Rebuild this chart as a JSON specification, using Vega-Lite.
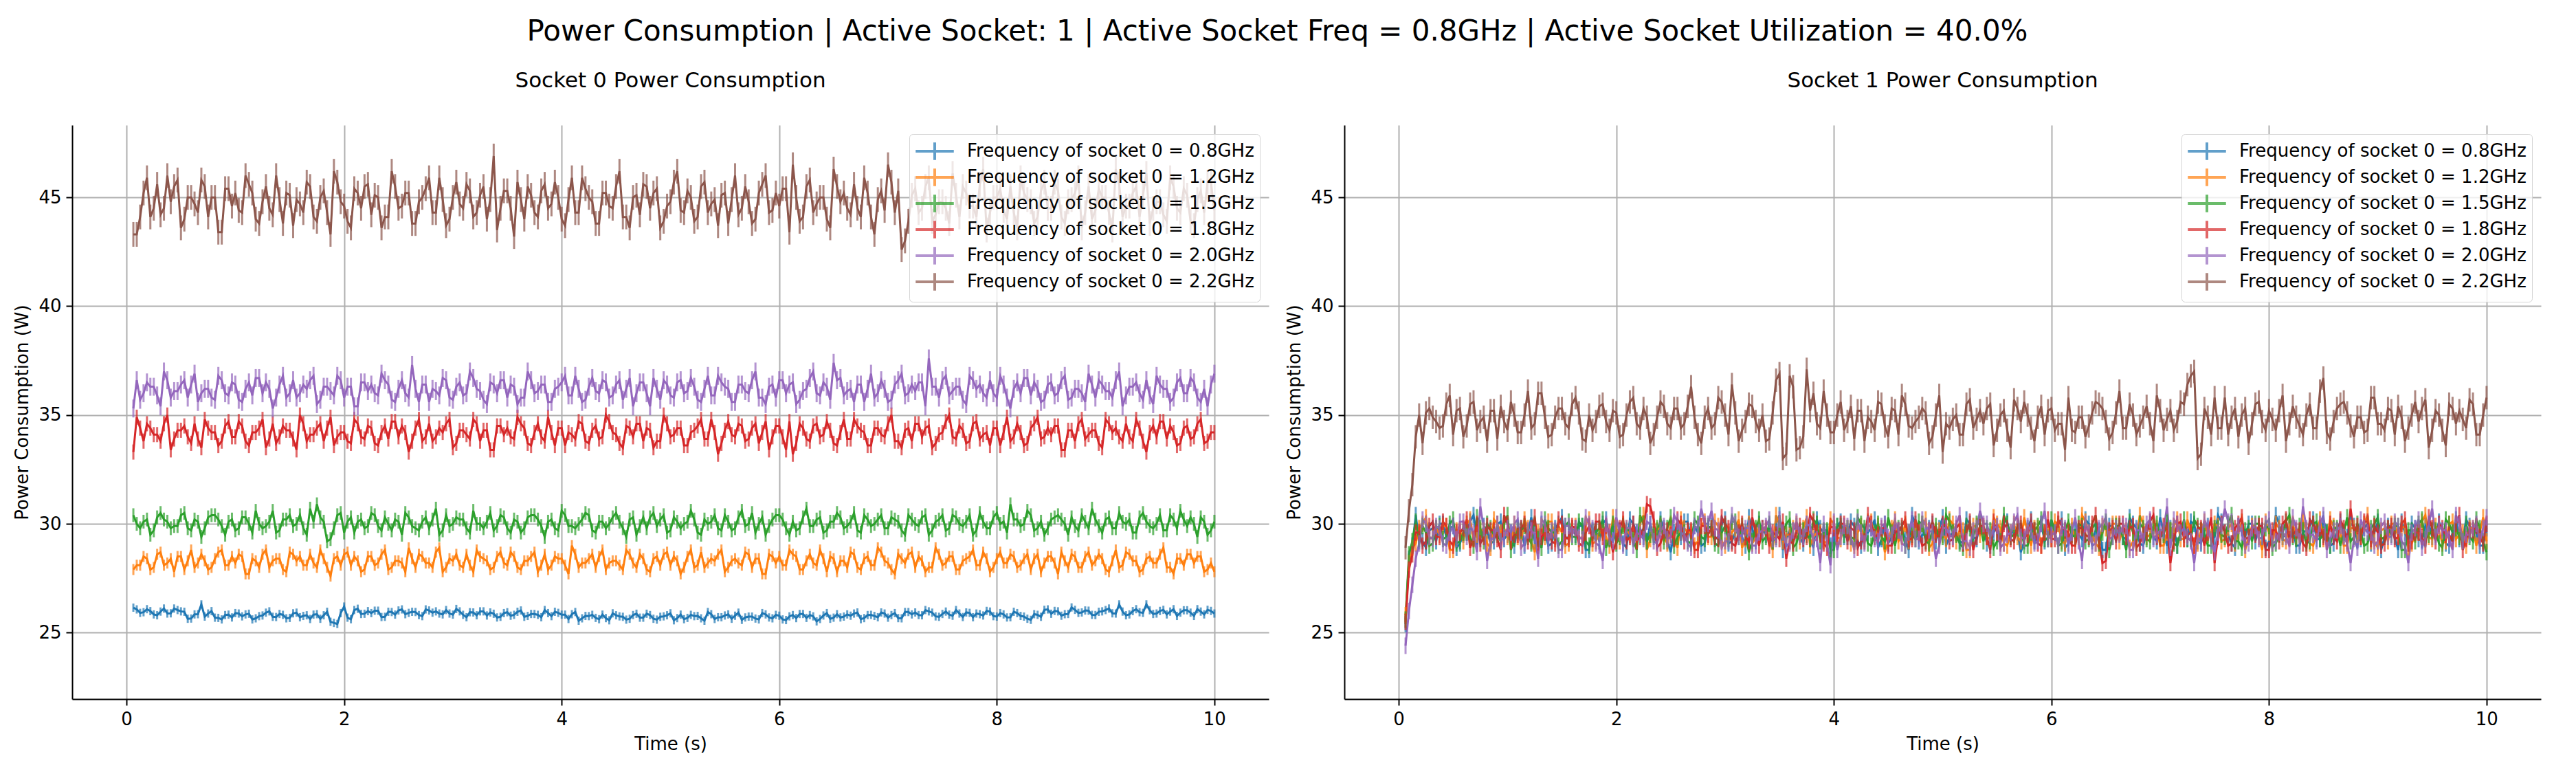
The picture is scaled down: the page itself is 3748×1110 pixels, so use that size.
{
  "$schema": "https://vega.github.io/schema/vega-lite/v6.json",
  "background": "white",
  "padding": {"left": 19, "top": 25, "right": 36, "bottom": 8},
  "title": {
    "text": "Power Consumption | Active Socket: 1 | Active Socket Freq = 0.8GHz | Active Socket Utilization = 40.0%",
    "font": "DejaVu Sans",
    "fontSize": 42,
    "fontWeight": "normal",
    "color": "#000",
    "anchor": "middle",
    "offset": 34
  },
  "data": {
    "values": [
      {"t":0.0625,"a":26.15,"b":27.9,"c":30.4,"d":33.3,"e":35.3,"f":43.3,"g":25.4,"h":25.8,"i":25.6,"j":25.5,"k":24.4,"l":28.9},
      {"t":0.125,"a":25.91,"b":28.1,"c":29.8,"d":34.4,"e":35.7,"f":44.1,"g":29.0,"h":28.9,"i":29.2,"j":28.6,"k":27.2,"l":31.8},
      {"t":0.1875,"a":26.08,"b":28.4,"c":30.2,"d":34.6,"e":36.5,"f":45.9,"g":29.2,"h":29.8,"i":29.3,"j":29.6,"k":29.1,"l":35.0},
      {"t":0.25,"a":25.84,"b":28.0,"c":29.7,"d":34.1,"e":36.3,"f":44.5,"g":28.9,"h":30.3,"i":29.6,"j":29.2,"k":30.0,"l":35.1},
      {"t":0.3125,"a":25.97,"b":28.7,"c":30.5,"d":33.8,"e":35.4,"f":44.2,"g":29.8,"h":29.4,"i":29.1,"j":30.1,"k":29.3,"l":34.9},
      {"t":0.375,"a":25.88,"b":28.2,"c":30.1,"d":35.0,"e":36.6,"f":46.0,"g":30.0,"h":29.5,"i":29.9,"j":29.4,"k":29.8,"l":34.4},
      {"t":0.4375,"a":26.11,"b":27.8,"c":29.9,"d":33.9,"e":36.1,"f":45.5,"g":29.4,"h":29.9,"i":29.4,"j":29.9,"k":29.0,"l":35.5},
      {"t":0.5,"a":25.98,"b":28.5,"c":30.4,"d":34.3,"e":36.4,"f":43.6,"g":29.9,"h":28.8,"i":30.2,"j":29.0,"k":29.9,"l":34.1},
      {"t":0.5625,"a":25.64,"b":28.3,"c":29.8,"d":34.0,"e":35.8,"f":45.0,"g":29.1,"h":29.7,"i":29.2,"j":29.6,"k":30.1,"l":35.3},
      {"t":0.625,"a":25.84,"b":28.0,"c":30.2,"d":34.6,"e":36.9,"f":44.7,"g":29.6,"h":30.0,"i":29.6,"j":30.2,"k":29.4,"l":34.5},
      {"t":0.6875,"a":26.3,"b":28.6,"c":29.4,"d":33.5,"e":36.0,"f":45.8,"g":30.4,"h":29.3,"i":29.0,"j":29.3,"k":29.6,"l":35.6},
      {"t":0.75,"a":25.88,"b":27.9,"c":30.3,"d":34.4,"e":36.2,"f":44.1,"g":29.3,"h":29.7,"i":29.8,"j":29.1,"k":30.8,"l":34.7},
      {"t":0.8125,"a":25.69,"b":28.4,"c":30.4,"d":34.2,"e":35.7,"f":45.0,"g":29.7,"h":29.1,"i":30.0,"j":29.9,"k":28.3,"l":33.8},
      {"t":0.875,"a":25.61,"b":28.8,"c":29.9,"d":33.8,"e":36.6,"f":43.4,"g":29.2,"h":30.2,"i":29.5,"j":29.7,"k":29.4,"l":35.2},
      {"t":0.9375,"a":25.83,"b":28.1,"c":30.1,"d":34.7,"e":35.9,"f":45.4,"g":30.1,"h":29.6,"i":29.2,"j":28.8,"k":29.2,"l":35.4},
      {"t":1,"a":25.9,"b":28.2,"c":29.7,"d":34.0,"e":36.4,"f":45.2,"g":29.5,"h":29.4,"i":30.4,"j":30.0,"k":29.8,"l":34.3},
      {"t":1.0625,"a":25.75,"b":28.5,"c":30.3,"d":34.5,"e":35.6,"f":44.3,"g":29.0,"h":30.0,"i":29.3,"j":29.5,"k":30.0,"l":35.0},
      {"t":1.125,"a":25.87,"b":27.7,"c":30.0,"d":33.6,"e":36.5,"f":45.6,"g":29.8,"h":29.2,"i":29.7,"j":29.8,"k":28.9,"l":34.2},
      {"t":1.1875,"a":25.66,"b":28.3,"c":30.6,"d":34.2,"e":36.7,"f":44.0,"g":29.6,"h":29.8,"i":29.4,"j":29.2,"k":29.7,"l":36.1},
      {"t":1.25,"a":25.79,"b":28.6,"c":29.8,"d":34.8,"e":36.0,"f":44.8,"g":29.2,"h":28.7,"i":30.0,"j":30.3,"k":29.5,"l":34.6},
      {"t":1.3125,"a":25.98,"b":28.0,"c":30.1,"d":33.9,"e":36.2,"f":44.5,"g":30.0,"h":29.9,"i":28.9,"j":29.4,"k":30.2,"l":36.0},
      {"t":1.375,"a":25.72,"b":28.4,"c":29.6,"d":33.7,"e":35.8,"f":46.0,"g":29.0,"h":30.1,"i":29.8,"j":29.6,"k":29.2,"l":34.0},
      {"t":1.4375,"a":25.82,"b":27.9,"c":30.2,"d":34.5,"e":36.8,"f":43.8,"g":29.8,"h":29.3,"i":29.6,"j":29.1,"k":29.7,"l":34.9},
      {"t":1.5,"a":25.68,"b":28.7,"c":30.4,"d":34.3,"e":36.0,"f":45.1,"g":30.3,"h":29.6,"i":29.2,"j":30.0,"k":28.8,"l":35.3},
      {"t":1.5625,"a":25.92,"b":28.3,"c":30.0,"d":33.4,"e":35.8,"f":44.9,"g":29.4,"h":29.1,"i":30.1,"j":29.3,"k":29.9,"l":34.4},
      {"t":1.625,"a":25.77,"b":28.1,"c":29.8,"d":34.6,"e":36.4,"f":44.3,"g":29.5,"h":29.9,"i":29.4,"j":29.8,"k":29.8,"l":35.8},
      {"t":1.6875,"a":25.63,"b":28.6,"c":30.7,"d":34.1,"e":36.6,"f":45.5,"g":29.9,"h":29.4,"i":29.9,"j":29.0,"k":29.3,"l":33.9},
      {"t":1.75,"a":25.85,"b":28.0,"c":30.9,"d":34.4,"e":35.5,"f":43.9,"g":28.8,"h":30.2,"i":29.0,"j":29.9,"k":30.0,"l":35.0},
      {"t":1.8125,"a":25.8,"b":28.4,"c":30.1,"d":33.8,"e":36.3,"f":45.3,"g":29.7,"h":29.2,"i":29.6,"j":30.1,"k":29.1,"l":34.7},
      {"t":1.875,"a":25.5,"b":27.6,"c":29.3,"d":34.9,"e":36.1,"f":43.3,"g":30.0,"h":29.6,"i":30.2,"j":29.4,"k":28.3,"l":35.5},
      {"t":1.9375,"a":25.4,"b":28.5,"c":30.4,"d":34.0,"e":36.8,"f":45.7,"g":29.3,"h":29.0,"i":29.3,"j":29.6,"k":29.4,"l":34.3},
      {"t":2,"a":26.2,"b":28.6,"c":29.6,"d":34.2,"e":35.8,"f":44.6,"g":29.7,"h":29.8,"i":29.1,"j":29.2,"k":30.3,"l":35.1},
      {"t":2.0625,"a":25.62,"b":28.1,"c":30.3,"d":33.7,"e":36.3,"f":43.6,"g":29.1,"h":30.0,"i":29.9,"j":30.2,"k":29.0,"l":34.1},
      {"t":2.125,"a":26.1,"b":28.3,"c":30.1,"d":34.6,"e":35.4,"f":45.2,"g":30.2,"h":29.5,"i":29.7,"j":29.4,"k":29.8,"l":35.6},
      {"t":2.1875,"a":25.87,"b":27.9,"c":29.8,"d":33.9,"e":36.5,"f":45.5,"g":29.6,"h":29.2,"i":28.8,"j":29.2,"k":29.6,"l":34.6},
      {"t":2.25,"a":25.9,"b":28.5,"c":30.5,"d":34.4,"e":36.4,"f":44.2,"g":29.4,"h":30.4,"i":30.0,"j":29.8,"k":29.3,"l":35.3},
      {"t":2.3125,"a":26.01,"b":28.2,"c":29.9,"d":33.6,"e":35.9,"f":45.0,"g":30.0,"h":29.3,"i":29.5,"j":30.8,"k":30.0,"l":33.7},
      {"t":2.375,"a":25.73,"b":28.8,"c":30.3,"d":34.5,"e":36.6,"f":44.1,"g":29.2,"h":29.7,"i":29.8,"j":28.9,"k":29.1,"l":34.9},
      {"t":2.4375,"a":25.95,"b":28.0,"c":29.7,"d":34.7,"e":35.7,"f":46.2,"g":29.8,"h":29.4,"i":29.2,"j":29.7,"k":29.9,"l":35.4},
      {"t":2.5,"a":26.02,"b":28.3,"c":30.1,"d":34.0,"e":36.2,"f":44.5,"g":28.7,"h":30.0,"i":30.3,"j":29.5,"k":29.4,"l":34.4},
      {"t":2.5625,"a":25.85,"b":27.8,"c":30.5,"d":34.2,"e":36.0,"f":45.2,"g":29.9,"h":28.9,"i":29.4,"j":30.2,"k":30.1,"l":35.3},
      {"t":2.625,"a":25.96,"b":28.4,"c":29.9,"d":33.8,"e":37.3,"f":43.8,"g":30.1,"h":29.8,"i":29.6,"j":29.2,"k":29.5,"l":34.6},
      {"t":2.6875,"a":25.81,"b":28.6,"c":29.7,"d":34.8,"e":35.6,"f":44.8,"g":29.3,"h":29.6,"i":29.1,"j":29.7,"k":28.9,"l":36.3},
      {"t":2.75,"a":26.07,"b":28.2,"c":30.3,"d":34.0,"e":36.4,"f":45.4,"g":29.6,"h":29.2,"i":30.0,"j":28.8,"k":29.8,"l":34.1},
      {"t":2.8125,"a":25.92,"b":28.0,"c":30.2,"d":33.8,"e":36.2,"f":44.3,"g":29.1,"h":30.1,"i":29.3,"j":29.9,"k":30.0,"l":34.9},
      {"t":2.875,"a":25.88,"b":28.9,"c":29.5,"d":34.4,"e":35.9,"f":45.9,"g":29.9,"h":29.4,"i":29.8,"j":29.8,"k":30.6,"l":34.4},
      {"t":2.9375,"a":26.04,"b":28.0,"c":30.4,"d":34.6,"e":36.6,"f":43.7,"g":29.4,"h":29.9,"i":29.0,"j":29.3,"k":29.7,"l":35.8},
      {"t":3,"a":25.83,"b":28.3,"c":30.0,"d":33.5,"e":35.7,"f":45.0,"g":30.2,"h":29.0,"i":29.9,"j":30.0,"k":29.2,"l":35.0},
      {"t":3.0625,"a":25.98,"b":28.1,"c":30.2,"d":34.3,"e":36.5,"f":44.7,"g":29.2,"h":29.6,"i":30.1,"j":29.1,"k":30.4,"l":36.4},
      {"t":3.125,"a":25.71,"b":28.6,"c":29.8,"d":34.1,"e":36.0,"f":45.6,"g":29.6,"h":30.2,"i":29.4,"j":29.6,"k":29.4,"l":33.8},
      {"t":3.1875,"a":25.93,"b":27.8,"c":30.6,"d":34.8,"e":36.7,"f":44.1,"g":29.0,"h":29.3,"i":29.6,"j":29.4,"k":29.8,"l":34.7},
      {"t":3.25,"a":25.98,"b":28.5,"c":30.0,"d":33.8,"e":36.1,"f":45.1,"g":29.8,"h":29.1,"i":29.2,"j":30.3,"k":29.0,"l":35.4},
      {"t":3.3125,"a":25.79,"b":28.3,"c":30.1,"d":34.3,"e":35.5,"f":44.0,"g":30.0,"h":29.9,"i":30.2,"j":29.0,"k":29.6,"l":34.3},
      {"t":3.375,"a":25.87,"b":28.0,"c":29.7,"d":33.4,"e":36.4,"f":46.9,"g":29.5,"h":29.7,"i":29.4,"j":29.8,"k":29.9,"l":33.8},
      {"t":3.4375,"a":25.73,"b":28.7,"c":30.4,"d":34.5,"e":36.6,"f":44.5,"g":29.2,"h":28.8,"i":29.2,"j":29.6,"k":29.3,"l":35.1},
      {"t":3.5,"a":25.94,"b":28.1,"c":29.8,"d":34.4,"e":35.8,"f":45.3,"g":30.4,"h":30.0,"i":29.8,"j":29.3,"k":30.2,"l":36.9},
      {"t":3.5625,"a":25.82,"b":28.5,"c":30.2,"d":33.9,"e":36.3,"f":43.2,"g":29.3,"h":29.5,"i":30.0,"j":28.4,"k":29.0,"l":33.2},
      {"t":3.625,"a":26.02,"b":27.9,"c":29.6,"d":34.6,"e":35.8,"f":44.9,"g":29.7,"h":29.8,"i":28.9,"j":29.1,"k":29.7,"l":36.3},
      {"t":3.6875,"a":25.77,"b":28.3,"c":30.3,"d":33.7,"e":37.0,"f":45.5,"g":29.4,"h":29.2,"i":29.7,"j":29.9,"k":29.5,"l":33.5},
      {"t":3.75,"a":25.86,"b":28.7,"c":30.4,"d":34.2,"e":36.0,"f":44.3,"g":30.0,"h":30.3,"i":29.5,"j":29.4,"k":30.0,"l":37.1},
      {"t":3.8125,"a":25.71,"b":28.1,"c":29.9,"d":34.0,"e":36.4,"f":45.3,"g":28.9,"h":29.4,"i":30.2,"j":30.1,"k":29.2,"l":36.0},
      {"t":3.875,"a":25.9,"b":27.9,"c":30.1,"d":34.9,"e":35.6,"f":44.5,"g":29.8,"h":29.6,"i":29.2,"j":29.5,"k":28.2,"l":34.4},
      {"t":3.9375,"a":25.96,"b":28.5,"c":29.8,"d":33.6,"e":36.2,"f":45.7,"g":29.6,"h":29.1,"i":29.7,"j":28.9,"k":29.1,"l":35.0},
      {"t":4,"a":25.83,"b":28.4,"c":30.6,"d":34.4,"e":36.5,"f":44.0,"g":29.2,"h":30.0,"i":28.8,"j":29.8,"k":30.1,"l":34.2},
      {"t":4.0625,"a":25.63,"b":27.7,"c":29.9,"d":34.2,"e":35.9,"f":44.9,"g":30.1,"h":29.3,"i":29.9,"j":30.0,"k":29.4,"l":35.6},
      {"t":4.125,"a":25.95,"b":28.6,"c":29.8,"d":33.9,"e":36.8,"f":44.3,"g":29.4,"h":29.8,"i":29.8,"j":29.2,"k":29.9,"l":34.7},
      {"t":4.1875,"a":25.66,"b":28.2,"c":30.2,"d":34.6,"e":35.6,"f":45.9,"g":29.9,"h":29.0,"i":29.3,"j":29.7,"k":28.8,"l":33.9},
      {"t":4.25,"a":25.76,"b":28.4,"c":30.4,"d":33.7,"e":36.3,"f":45.0,"g":29.0,"h":29.9,"i":30.0,"j":29.2,"k":29.6,"l":35.2},
      {"t":4.3125,"a":25.68,"b":28.0,"c":29.6,"d":34.5,"e":36.1,"f":43.8,"g":29.6,"h":30.1,"i":29.1,"j":30.4,"k":30.0,"l":34.9},
      {"t":4.375,"a":25.83,"b":28.8,"c":30.1,"d":34.0,"e":36.6,"f":45.2,"g":30.2,"h":29.4,"i":29.6,"j":29.4,"k":29.3,"l":34.3},
      {"t":4.4375,"a":25.57,"b":28.2,"c":30.0,"d":34.7,"e":35.8,"f":44.6,"g":29.3,"h":29.6,"i":29.4,"j":29.8,"k":29.9,"l":35.5},
      {"t":4.5,"a":25.8,"b":28.3,"c":30.5,"d":34.1,"e":36.4,"f":45.5,"g":29.1,"h":29.2,"i":30.3,"j":29.0,"k":29.4,"l":34.0},
      {"t":4.5625,"a":25.73,"b":27.9,"c":29.8,"d":33.5,"e":35.7,"f":44.1,"g":29.9,"h":30.2,"i":29.0,"j":29.6,"k":30.1,"l":35.2},
      {"t":4.625,"a":25.64,"b":28.6,"c":30.2,"d":34.4,"e":36.7,"f":43.6,"g":29.7,"h":29.4,"i":29.8,"j":29.9,"k":29.1,"l":35.9},
      {"t":4.6875,"a":25.87,"b":28.0,"c":29.5,"d":34.6,"e":36.0,"f":45.1,"g":28.8,"h":29.2,"i":29.6,"j":29.3,"k":29.6,"l":34.5},
      {"t":4.75,"a":25.69,"b":28.4,"c":30.3,"d":33.8,"e":36.5,"f":45.6,"g":30.0,"h":29.8,"i":29.3,"j":30.2,"k":29.3,"l":34.7},
      {"t":4.8125,"a":25.81,"b":27.8,"c":30.3,"d":34.3,"e":35.4,"f":44.5,"g":29.5,"h":30.0,"i":30.0,"j":29.0,"k":30.2,"l":35.3},
      {"t":4.875,"a":25.6,"b":28.5,"c":29.9,"d":33.8,"e":36.2,"f":45.4,"g":29.8,"h":28.9,"i":29.1,"j":29.7,"k":29.7,"l":33.7},
      {"t":4.9375,"a":25.75,"b":28.6,"c":30.4,"d":35.0,"e":36.6,"f":43.9,"g":29.2,"h":29.7,"i":29.9,"j":29.5,"k":28.4,"l":35.0},
      {"t":5,"a":25.89,"b":28.1,"c":29.7,"d":34.0,"e":35.9,"f":44.8,"g":30.3,"h":29.5,"i":29.4,"j":30.0,"k":29.8,"l":33.3},
      {"t":5.0625,"a":25.67,"b":28.3,"c":30.1,"d":34.4,"e":36.5,"f":46.2,"g":29.4,"h":30.2,"i":30.1,"j":29.2,"k":29.5,"l":34.4},
      {"t":5.125,"a":25.62,"b":28.0,"c":30.0,"d":33.6,"e":36.0,"f":44.3,"g":29.6,"h":29.2,"i":29.5,"j":29.8,"k":30.0,"l":35.0},
      {"t":5.1875,"a":25.82,"b":28.8,"c":30.6,"d":34.2,"e":36.7,"f":45.0,"g":29.1,"h":29.7,"i":28.9,"j":29.1,"k":29.2,"l":34.1},
      {"t":5.25,"a":25.77,"b":28.1,"c":29.6,"d":34.5,"e":35.7,"f":44.1,"g":30.0,"h":28.8,"i":29.8,"j":30.1,"k":28.9,"l":35.7},
      {"t":5.3125,"a":25.55,"b":28.0,"c":30.2,"d":33.9,"e":36.2,"f":45.7,"g":29.3,"h":29.9,"i":30.0,"j":29.4,"k":29.8,"l":34.8},
      {"t":5.375,"a":25.85,"b":28.4,"c":30.1,"d":34.8,"e":35.9,"f":44.7,"g":29.8,"h":29.8,"i":29.2,"j":29.9,"k":30.0,"l":34.6},
      {"t":5.4375,"a":25.71,"b":28.6,"c":29.8,"d":33.2,"e":36.8,"f":43.7,"g":29.0,"h":29.3,"i":29.7,"j":28.8,"k":29.4,"l":35.5},
      {"t":5.5,"a":25.79,"b":27.8,"c":30.4,"d":34.3,"e":36.3,"f":45.2,"g":29.9,"h":30.0,"i":29.2,"j":29.6,"k":29.9,"l":34.3},
      {"t":5.5625,"a":25.64,"b":28.3,"c":29.7,"d":34.1,"e":35.6,"f":44.9,"g":30.1,"h":29.1,"i":30.4,"j":30.0,"k":29.1,"l":35.2},
      {"t":5.625,"a":25.92,"b":28.2,"c":30.3,"d":34.6,"e":36.4,"f":44.2,"g":29.4,"h":29.6,"i":29.4,"j":29.3,"k":29.6,"l":33.5},
      {"t":5.6875,"a":25.7,"b":28.7,"c":29.9,"d":33.8,"e":36.1,"f":45.5,"g":29.6,"h":29.4,"i":29.8,"j":29.9,"k":30.4,"l":35.3},
      {"t":5.75,"a":25.74,"b":28.0,"c":30.5,"d":34.4,"e":36.6,"f":43.8,"g":29.2,"h":30.3,"i":29.0,"j":29.4,"k":29.3,"l":35.6},
      {"t":5.8125,"a":25.61,"b":28.4,"c":30.0,"d":33.7,"e":35.8,"f":45.2,"g":30.2,"h":29.0,"i":29.6,"j":30.1,"k":29.7,"l":34.4},
      {"t":5.875,"a":25.84,"b":27.7,"c":29.5,"d":34.7,"e":35.5,"f":46.0,"g":29.4,"h":29.8,"i":29.9,"j":29.1,"k":29.2,"l":34.9},
      {"t":5.9375,"a":25.66,"b":28.5,"c":30.2,"d":34.0,"e":36.4,"f":44.4,"g":29.2,"h":29.6,"i":29.3,"j":29.6,"k":30.6,"l":34.1},
      {"t":6,"a":25.78,"b":28.5,"c":30.4,"d":34.5,"e":36.6,"f":44.6,"g":29.8,"h":29.3,"i":30.2,"j":29.3,"k":29.5,"l":35.3},
      {"t":6.0625,"a":25.58,"b":28.1,"c":29.8,"d":33.4,"e":36.0,"f":45.4,"g":30.0,"h":30.0,"i":29.0,"j":30.2,"k":29.0,"l":34.6},
      {"t":6.125,"a":25.81,"b":28.6,"c":30.1,"d":33.2,"e":36.5,"f":46.5,"g":28.9,"h":29.1,"i":29.7,"j":29.7,"k":29.8,"l":33.4},
      {"t":6.1875,"a":25.86,"b":27.9,"c":29.8,"d":34.6,"e":35.7,"f":43.9,"g":29.7,"h":29.9,"i":29.5,"j":29.0,"k":29.6,"l":34.3},
      {"t":6.25,"a":25.68,"b":28.3,"c":30.7,"d":33.9,"e":36.2,"f":45.5,"g":29.5,"h":29.4,"i":30.0,"j":29.8,"k":29.2,"l":34.9},
      {"t":6.3125,"a":25.75,"b":28.2,"c":29.9,"d":34.5,"e":37.0,"f":44.3,"g":30.2,"h":30.1,"i":29.2,"j":29.5,"k":30.0,"l":34.0},
      {"t":6.375,"a":25.63,"b":28.8,"c":30.3,"d":34.0,"e":35.9,"f":45.0,"g":29.2,"h":29.5,"i":29.8,"j":30.0,"k":29.0,"l":35.1},
      {"t":6.4375,"a":25.9,"b":27.8,"c":29.7,"d":34.7,"e":36.3,"f":44.0,"g":29.7,"h":28.9,"i":29.1,"j":29.2,"k":29.8,"l":35.5},
      {"t":6.5,"a":25.69,"b":28.4,"c":30.1,"d":33.7,"e":37.4,"f":46.3,"g":28.8,"h":29.8,"i":30.1,"j":28.3,"k":30.3,"l":34.7},
      {"t":6.5625,"a":25.7,"b":28.3,"c":30.3,"d":34.2,"e":36.7,"f":44.8,"g":29.9,"h":30.0,"i":29.4,"j":29.8,"k":29.4,"l":34.2},
      {"t":6.625,"a":25.84,"b":28.0,"c":29.9,"d":33.9,"e":36.1,"f":44.5,"g":29.8,"h":29.2,"i":29.9,"j":30.0,"k":29.5,"l":36.1},
      {"t":6.6875,"a":25.88,"b":28.6,"c":30.5,"d":34.8,"e":35.6,"f":45.6,"g":29.3,"h":29.7,"i":28.8,"j":29.4,"k":29.9,"l":34.4},
      {"t":6.75,"a":25.62,"b":27.9,"c":29.6,"d":34.3,"e":36.4,"f":44.1,"g":30.0,"h":29.2,"i":29.6,"j":29.9,"k":28.8,"l":35.0},
      {"t":6.8125,"a":25.81,"b":28.5,"c":30.2,"d":33.6,"e":36.2,"f":45.2,"g":29.1,"h":30.4,"i":30.0,"j":29.1,"k":29.7,"l":34.5},
      {"t":6.875,"a":25.77,"b":28.1,"c":30.0,"d":34.4,"e":35.8,"f":43.3,"g":29.6,"h":29.4,"i":29.3,"j":29.6,"k":30.0,"l":35.4},
      {"t":6.9375,"a":25.93,"b":28.7,"c":30.4,"d":34.1,"e":36.6,"f":45.3,"g":29.4,"h":29.8,"i":29.9,"j":30.4,"k":29.3,"l":33.8},
      {"t":7,"a":25.69,"b":28.2,"c":29.8,"d":34.6,"e":35.6,"f":46.5,"g":30.3,"h":29.0,"i":29.4,"j":29.3,"k":29.7,"l":35.2},
      {"t":7.0625,"a":25.9,"b":27.7,"c":30.2,"d":33.8,"e":36.4,"f":44.3,"g":29.0,"h":29.6,"i":30.1,"j":29.7,"k":30.8,"l":34.8},
      {"t":7.125,"a":25.66,"b":28.4,"c":29.7,"d":33.5,"e":36.9,"f":42.6,"g":29.8,"h":29.9,"i":29.1,"j":29.2,"k":30.2,"l":34.3},
      {"t":7.1875,"a":25.95,"b":28.6,"c":30.4,"d":34.4,"e":36.0,"f":43.9,"g":29.6,"h":29.3,"i":29.6,"j":30.1,"k":29.6,"l":35.6},
      {"t":7.25,"a":25.93,"b":28.0,"c":30.0,"d":34.6,"e":36.1,"f":45.4,"g":29.3,"h":30.2,"i":29.3,"j":29.5,"k":29.4,"l":36.4},
      {"t":7.3125,"a":25.8,"b":28.3,"c":30.3,"d":34.0,"e":36.5,"f":44.5,"g":30.0,"h":29.0,"i":30.2,"j":29.0,"k":28.2,"l":37.0},
      {"t":7.375,"a":25.98,"b":28.0,"c":29.5,"d":34.5,"e":37.6,"f":45.9,"g":29.1,"h":29.7,"i":29.7,"j":29.8,"k":29.2,"l":33.2},
      {"t":7.4375,"a":25.75,"b":28.9,"c":30.1,"d":33.7,"e":36.3,"f":44.2,"g":29.9,"h":29.5,"i":29.0,"j":29.6,"k":29.8,"l":34.9},
      {"t":7.5,"a":25.86,"b":28.1,"c":30.4,"d":34.2,"e":36.6,"f":44.8,"g":29.4,"h":30.0,"i":29.8,"j":28.2,"k":28.7,"l":35.8},
      {"t":7.5625,"a":25.83,"b":28.5,"c":29.8,"d":35.0,"e":35.9,"f":43.8,"g":30.1,"h":29.2,"i":29.5,"j":30.0,"k":29.9,"l":34.4},
      {"t":7.625,"a":26.04,"b":27.9,"c":30.3,"d":33.9,"e":36.3,"f":45.1,"g":29.5,"h":29.8,"i":30.0,"j":29.0,"k":30.1,"l":34.1},
      {"t":7.6875,"a":25.72,"b":28.3,"c":29.9,"d":34.3,"e":35.7,"f":45.5,"g":28.9,"h":29.1,"i":29.2,"j":29.8,"k":29.3,"l":35.3},
      {"t":7.75,"a":25.91,"b":28.5,"c":30.4,"d":33.8,"e":36.8,"f":44.6,"g":29.8,"h":30.1,"i":28.9,"j":30.3,"k":29.6,"l":35.0},
      {"t":7.8125,"a":25.88,"b":28.1,"c":29.7,"d":34.7,"e":36.2,"f":44.1,"g":30.0,"h":29.4,"i":29.8,"j":29.4,"k":29.1,"l":33.7},
      {"t":7.875,"a":25.79,"b":28.7,"c":30.1,"d":34.1,"e":36.0,"f":46.3,"g":29.2,"h":29.9,"i":30.0,"j":29.5,"k":29.9,"l":35.5},
      {"t":7.9375,"a":25.97,"b":27.8,"c":29.8,"d":33.6,"e":36.6,"f":44.3,"g":29.7,"h":28.8,"i":29.4,"j":29.9,"k":29.4,"l":34.7},
      {"t":8,"a":25.74,"b":28.4,"c":30.5,"d":34.4,"e":35.8,"f":45.0,"g":29.2,"h":29.6,"i":29.9,"j":28.8,"k":30.2,"l":35.2},
      {"t":8.0625,"a":25.84,"b":28.2,"c":30.1,"d":34.2,"e":36.4,"f":44.4,"g":30.4,"h":30.0,"i":29.1,"j":29.7,"k":29.2,"l":34.3},
      {"t":8.125,"a":25.71,"b":28.6,"c":30.9,"d":33.8,"e":35.3,"f":45.5,"g":29.4,"h":29.3,"i":29.6,"j":30.0,"k":29.6,"l":35.9},
      {"t":8.1875,"a":25.9,"b":28.0,"c":30.2,"d":34.6,"e":36.5,"f":43.6,"g":29.8,"h":29.9,"i":30.4,"j":29.3,"k":29.0,"l":34.6},
      {"t":8.25,"a":25.74,"b":28.4,"c":30.0,"d":33.6,"e":36.7,"f":45.2,"g":29.0,"h":29.4,"i":29.3,"j":29.7,"k":29.8,"l":34.9},
      {"t":8.3125,"a":25.59,"b":27.9,"c":30.4,"d":34.4,"e":35.9,"f":44.8,"g":29.6,"h":30.1,"i":29.7,"j":29.1,"k":30.8,"l":34.1},
      {"t":8.375,"a":25.82,"b":28.6,"c":29.8,"d":34.9,"e":36.2,"f":44.1,"g":29.9,"h":29.1,"i":29.2,"j":30.2,"k":29.5,"l":35.5},
      {"t":8.4375,"a":26.05,"b":28.2,"c":29.5,"d":34.0,"e":35.7,"f":45.7,"g":29.3,"h":29.6,"i":30.1,"j":29.6,"k":29.2,"l":34.4},
      {"t":8.5,"a":25.87,"b":28.5,"c":30.2,"d":34.1,"e":36.5,"f":44.5,"g":30.2,"h":29.3,"i":29.5,"j":29.4,"k":30.4,"l":36.7},
      {"t":8.5625,"a":25.98,"b":27.7,"c":30.4,"d":34.5,"e":36.0,"f":45.3,"g":29.0,"h":30.2,"i":29.0,"j":30.0,"k":29.3,"l":33.9},
      {"t":8.625,"a":25.85,"b":28.3,"c":30.0,"d":33.4,"e":36.8,"f":43.8,"g":29.7,"h":29.7,"i":29.8,"j":29.2,"k":29.7,"l":35.3},
      {"t":8.6875,"a":26.16,"b":28.6,"c":30.3,"d":34.3,"e":35.8,"f":44.9,"g":29.5,"h":29.0,"i":29.6,"j":29.8,"k":29.4,"l":35.6},
      {"t":8.75,"a":25.91,"b":28.0,"c":29.7,"d":34.6,"e":36.2,"f":45.9,"g":30.0,"h":29.8,"i":29.2,"j":30.7,"k":28.2,"l":34.5},
      {"t":8.8125,"a":26.02,"b":28.5,"c":30.1,"d":33.9,"e":35.6,"f":44.3,"g":29.2,"h":29.5,"i":30.0,"j":29.9,"k":28.9,"l":34.9},
      {"t":8.875,"a":25.82,"b":28.1,"c":30.7,"d":34.3,"e":36.4,"f":44.0,"g":29.8,"h":30.0,"i":29.0,"j":30.1,"k":29.8,"l":34.2},
      {"t":8.9375,"a":25.96,"b":28.6,"c":29.9,"d":33.7,"e":36.6,"f":45.4,"g":29.1,"h":29.2,"i":29.8,"j":29.3,"k":29.6,"l":35.8},
      {"t":9,"a":26.04,"b":27.9,"c":30.2,"d":34.8,"e":36.1,"f":45.0,"g":30.1,"h":28.9,"i":30.3,"j":29.6,"k":29.2,"l":34.6},
      {"t":9.0625,"a":25.89,"b":28.3,"c":29.8,"d":34.2,"e":35.8,"f":43.5,"g":29.4,"h":29.8,"i":29.4,"j":29.1,"k":30.1,"l":34.3},
      {"t":9.125,"a":26.3,"b":28.0,"c":30.5,"d":34.0,"e":37.0,"f":45.6,"g":29.9,"h":30.0,"i":29.5,"j":29.9,"k":29.4,"l":35.2},
      {"t":9.1875,"a":25.8,"b":28.7,"c":30.0,"d":34.6,"e":35.9,"f":44.6,"g":28.8,"h":29.4,"i":29.9,"j":29.4,"k":29.9,"l":35.4},
      {"t":9.25,"a":25.99,"b":28.3,"c":29.6,"d":33.8,"e":36.3,"f":45.2,"g":29.6,"h":29.9,"i":28.8,"j":30.2,"k":29.0,"l":33.8},
      {"t":9.3125,"a":25.94,"b":27.8,"c":30.3,"d":34.4,"e":36.0,"f":44.1,"g":30.0,"h":29.1,"i":29.7,"j":29.2,"k":29.6,"l":35.0},
      {"t":9.375,"a":26.3,"b":28.4,"c":30.1,"d":33.3,"e":36.6,"f":46.1,"g":29.3,"h":29.6,"i":30.0,"j":29.6,"k":30.2,"l":34.7},
      {"t":9.4375,"a":25.86,"b":28.2,"c":29.8,"d":34.5,"e":35.5,"f":44.5,"g":29.9,"h":30.4,"i":29.3,"j":29.0,"k":29.3,"l":35.7},
      {"t":9.5,"a":26.0,"b":28.6,"c":30.4,"d":34.7,"e":36.4,"f":44.8,"g":29.4,"h":29.3,"i":29.7,"j":29.8,"k":30.7,"l":34.3},
      {"t":9.5625,"a":25.84,"b":28.0,"c":29.7,"d":33.9,"e":36.2,"f":43.9,"g":30.1,"h":29.7,"i":29.1,"j":30.0,"k":29.9,"l":35.0},
      {"t":9.625,"a":26.08,"b":27.7,"c":30.2,"d":34.2,"e":35.8,"f":45.5,"g":29.1,"h":29.2,"i":30.2,"j":29.5,"k":29.7,"l":33.6},
      {"t":9.6875,"a":25.92,"b":28.4,"c":30.6,"d":33.7,"e":36.7,"f":44.3,"g":29.6,"h":30.1,"i":29.6,"j":29.2,"k":28.8,"l":35.3},
      {"t":9.75,"a":26.03,"b":28.6,"c":29.9,"d":34.5,"e":36.0,"f":45.1,"g":29.3,"h":29.5,"i":29.4,"j":30.4,"k":30.0,"l":35.2},
      {"t":9.8125,"a":25.77,"b":28.2,"c":30.0,"d":34.0,"e":36.5,"f":43.7,"g":30.2,"h":29.0,"i":30.0,"j":29.3,"k":29.5,"l":34.4},
      {"t":9.875,"a":25.97,"b":28.5,"c":30.3,"d":34.8,"e":35.6,"f":45.3,"g":29.7,"h":29.8,"i":29.2,"j":29.7,"k":29.8,"l":35.5},
      {"t":9.9375,"a":26.05,"b":27.9,"c":29.5,"d":33.8,"e":35.4,"f":45.7,"g":29.0,"h":29.6,"i":29.8,"j":29.4,"k":29.2,"l":34.1},
      {"t":10,"a":25.88,"b":27.8,"c":30.1,"d":34.2,"e":36.9,"f":44.4,"g":29.8,"h":29.2,"i":28.7,"j":30.0,"k":30.3,"l":35.8},
      {"t":0.09375,"a":26.07,"b":28.1,"c":30.0,"d":34.9,"e":36.6,"f":43.3,"g":28.4,"h":28.2,"i":28.6,"j":27.9,"k":26.0,"l":30.6},
      {"t":0.15625,"a":25.94,"b":28.5,"c":30.1,"d":33.8,"e":36.0,"f":45.2,"g":30.4,"h":29.1,"i":30.1,"j":29.6,"k":28.4,"l":34.0},
      {"t":0.21875,"a":25.99,"b":27.9,"c":29.5,"d":34.4,"e":36.3,"f":44.1,"g":29.2,"h":30.0,"i":29.9,"j":29.0,"k":30.2,"l":33.7},
      {"t":0.28125,"a":25.8,"b":28.6,"c":30.3,"d":34.1,"e":35.9,"f":45.6,"g":29.7,"h":29.3,"i":29.0,"j":29.9,"k":29.4,"l":35.3},
      {"t":0.34375,"a":26.11,"b":28.1,"c":30.2,"d":34.6,"e":37.0,"f":44.5,"g":29.2,"h":29.8,"i":29.8,"j":29.4,"k":29.9,"l":34.7},
      {"t":0.40625,"a":25.89,"b":28.4,"c":29.8,"d":33.4,"e":35.8,"f":44.8,"g":30.0,"h":29.9,"i":29.3,"j":30.1,"k":29.1,"l":34.5},
      {"t":0.46875,"a":26.04,"b":28.5,"c":29.9,"d":34.3,"e":36.1,"f":45.8,"g":29.8,"h":28.8,"i":30.0,"j":29.2,"k":29.6,"l":35.9},
      {"t":0.53125,"a":25.96,"b":27.9,"c":30.5,"d":34.5,"e":36.6,"f":44.0,"g":28.9,"h":29.7,"i":29.1,"j":29.6,"k":29.3,"l":35.2},
      {"t":0.59375,"a":25.65,"b":28.8,"c":29.7,"d":33.7,"e":36.4,"f":45.0,"g":29.5,"h":29.2,"i":29.6,"j":29.8,"k":30.1,"l":34.0},
      {"t":0.65625,"a":25.85,"b":28.2,"c":30.1,"d":33.9,"e":35.6,"f":44.3,"g":30.1,"h":30.2,"i":29.4,"j":28.9,"k":29.9,"l":35.5},
      {"t":0.71875,"a":25.74,"b":28.3,"c":29.8,"d":34.8,"e":36.2,"f":45.5,"g":29.4,"h":29.5,"i":30.3,"j":30.0,"k":28.7,"l":34.3},
      {"t":0.78125,"a":25.99,"b":28.0,"c":30.4,"d":34.2,"e":35.8,"f":45.0,"g":29.9,"h":29.7,"i":29.2,"j":29.4,"k":29.8,"l":34.9},
      {"t":0.84375,"a":25.68,"b":28.7,"c":30.2,"d":33.6,"e":36.8,"f":43.4,"g":29.1,"h":28.9,"i":29.8,"j":29.7,"k":29.2,"l":35.2},
      {"t":0.90625,"a":25.81,"b":28.1,"c":29.5,"d":34.5,"e":36.0,"f":45.4,"g":30.0,"h":30.0,"i":29.5,"j":29.3,"k":30.0,"l":33.9},
      {"t":0.96875,"a":25.7,"b":28.5,"c":30.2,"d":34.0,"e":36.5,"f":44.6,"g":29.3,"h":29.8,"i":30.0,"j":30.4,"k":29.4,"l":34.7},
      {"t":1.03125,"a":25.88,"b":28.6,"c":29.8,"d":34.7,"e":35.7,"f":44.4,"g":29.6,"h":29.2,"i":28.8,"j":29.2,"k":29.6,"l":35.6},
      {"t":1.09375,"a":25.84,"b":27.7,"c":30.3,"d":33.8,"e":36.2,"f":46.0,"g":29.8,"h":29.4,"i":29.7,"j":29.5,"k":30.2,"l":34.2},
      {"t":1.15625,"a":25.61,"b":28.4,"c":29.6,"d":34.2,"e":35.9,"f":45.2,"g":29.0,"h":30.2,"i":29.9,"j":30.0,"k":29.1,"l":35.0},
      {"t":1.21875,"a":25.76,"b":28.0,"c":30.0,"d":34.4,"e":36.7,"f":43.8,"g":30.3,"h":29.2,"i":29.1,"j":29.8,"k":29.7,"l":34.4},
      {"t":1.28125,"a":25.92,"b":28.8,"c":29.9,"d":33.5,"e":36.5,"f":45.5,"g":29.4,"h":29.6,"i":29.3,"j":29.0,"k":28.4,"l":36.0},
      {"t":1.34375,"a":25.73,"b":28.3,"c":30.6,"d":34.6,"e":35.3,"f":44.2,"g":29.6,"h":29.4,"i":30.2,"j":29.6,"k":30.0,"l":34.9},
      {"t":1.40625,"a":25.86,"b":28.4,"c":29.7,"d":34.0,"e":36.4,"f":44.9,"g":29.1,"h":30.1,"i":29.6,"j":29.2,"k":29.7,"l":34.1},
      {"t":1.46875,"a":25.66,"b":27.8,"c":30.2,"d":34.3,"e":35.8,"f":45.2,"g":30.0,"h":29.9,"i":29.0,"j":30.2,"k":28.8,"l":35.3},
      {"t":1.53125,"a":25.89,"b":28.6,"c":29.9,"d":33.9,"e":36.6,"f":43.7,"g":29.3,"h":29.0,"i":29.9,"j":29.4,"k":29.9,"l":34.6},
      {"t":1.59375,"a":25.71,"b":28.5,"c":30.4,"d":35.0,"e":36.0,"f":44.7,"g":29.8,"h":29.8,"i":29.4,"j":29.9,"k":29.5,"l":35.5},
      {"t":1.65625,"a":25.8,"b":28.1,"c":29.5,"d":33.8,"e":36.2,"f":45.7,"g":29.9,"h":29.3,"i":30.1,"j":29.1,"k":29.4,"l":35.1},
      {"t":1.71875,"a":25.83,"b":28.2,"c":30.1,"d":34.1,"e":36.8,"f":44.1,"g":28.8,"h":30.0,"i":29.2,"j":29.6,"k":30.3,"l":33.8},
      {"t":1.78125,"a":25.64,"b":28.8,"c":30.3,"d":34.6,"e":35.7,"f":45.0,"g":29.7,"h":29.1,"i":29.6,"j":29.3,"k":29.8,"l":34.3},
      {"t":1.84375,"a":25.96,"b":28.0,"c":29.2,"d":34.4,"e":36.3,"f":44.3,"g":29.2,"h":29.6,"i":29.8,"j":30.1,"k":29.0,"l":35.4},
      {"t":1.90625,"a":25.45,"b":28.4,"c":29.8,"d":33.6,"e":35.9,"f":46.2,"g":30.2,"h":29.4,"i":28.9,"j":29.9,"k":30.0,"l":34.7},
      {"t":1.96875,"a":25.9,"b":28.1,"c":30.5,"d":34.2,"e":36.6,"f":44.8,"g":29.5,"h":30.3,"i":30.0,"j":28.7,"k":29.2,"l":35.2},
      {"t":2.03125,"a":25.69,"b":28.7,"c":30.1,"d":33.8,"e":36.3,"f":43.9,"g":29.7,"h":29.2,"i":29.4,"j":29.8,"k":29.6,"l":34.0},
      {"t":2.09375,"a":26.04,"b":28.5,"c":29.6,"d":34.8,"e":35.4,"f":45.4,"g":28.9,"h":29.8,"i":29.7,"j":29.2,"k":29.8,"l":35.0},
      {"t":2.15625,"a":25.86,"b":27.8,"c":30.2,"d":34.0,"e":36.5,"f":44.5,"g":30.0,"h":29.5,"i":29.3,"j":30.0,"k":29.0,"l":35.8},
      {"t":2.21875,"a":25.99,"b":28.5,"c":29.9,"d":34.5,"e":36.1,"f":45.6,"g":29.8,"h":30.0,"i":30.4,"j":29.4,"k":29.5,"l":34.4},
      {"t":2.28125,"a":26.01,"b":28.1,"c":30.4,"d":33.7,"e":36.0,"f":45.1,"g":29.2,"h":28.8,"i":29.2,"j":30.9,"k":30.1,"l":34.9},
      {"t":2.34375,"a":25.72,"b":28.6,"c":29.7,"d":34.2,"e":36.9,"f":43.6,"g":29.4,"h":29.7,"i":29.5,"j":30.2,"k":29.2,"l":34.1},
      {"t":2.40625,"a":25.96,"b":27.9,"c":30.0,"d":33.9,"e":36.4,"f":44.1,"g":30.2,"h":29.9,"i":30.0,"j":29.1,"k":29.7,"l":35.6},
      {"t":2.46875,"a":25.83,"b":28.3,"c":30.2,"d":34.7,"e":35.6,"f":45.5,"g":29.2,"h":29.1,"i":29.8,"j":29.7,"k":29.3,"l":34.6},
      {"t":2.53125,"a":26.07,"b":28.2,"c":29.5,"d":34.5,"e":36.6,"f":44.6,"g":29.6,"h":29.3,"i":29.0,"j":29.3,"k":30.4,"l":35.3},
      {"t":2.59375,"a":25.91,"b":28.9,"c":30.3,"d":33.3,"e":35.8,"f":45.2,"g":29.4,"h":30.2,"i":29.6,"j":30.0,"k":29.6,"l":34.4},
      {"t":2.65625,"a":25.95,"b":28.0,"c":29.8,"d":34.4,"e":36.2,"f":43.8,"g":30.1,"h":29.6,"i":29.2,"j":29.7,"k":29.1,"l":35.4},
      {"t":2.71875,"a":25.76,"b":28.5,"c":30.1,"d":33.8,"e":36.4,"f":45.0,"g":29.9,"h":29.0,"i":30.2,"j":28.8,"k":29.9,"l":34.9},
      {"t":2.78125,"a":26.02,"b":28.2,"c":29.8,"d":34.6,"e":35.6,"f":45.9,"g":29.0,"h":29.9,"i":29.4,"j":29.9,"k":30.7,"l":33.7},
      {"t":2.84375,"a":25.98,"b":28.7,"c":30.7,"d":34.0,"e":36.1,"f":44.3,"g":29.8,"h":29.4,"i":29.9,"j":29.5,"k":30.0,"l":35.3},
      {"t":2.90625,"a":25.84,"b":27.8,"c":29.7,"d":34.2,"e":36.7,"f":44.9,"g":29.3,"h":30.1,"i":29.1,"j":29.4,"k":29.8,"l":34.6},
      {"t":2.96875,"a":25.88,"b":28.4,"c":29.9,"d":34.8,"e":35.8,"f":44.0,"g":30.0,"h":29.2,"i":29.6,"j":30.3,"k":28.9,"l":35.6},
      {"t":3.03125,"a":26.09,"b":28.6,"c":30.3,"d":33.7,"e":36.3,"f":45.7,"g":29.1,"h":29.6,"i":29.3,"j":29.8,"k":29.2,"l":34.1},
      {"t":3.09375,"a":25.82,"b":28.0,"c":30.2,"d":34.3,"e":35.9,"f":44.5,"g":29.6,"h":29.8,"i":30.1,"j":29.0,"k":30.0,"l":35.1},
      {"t":3.15625,"a":25.94,"b":28.1,"c":29.6,"d":33.9,"e":37.0,"f":45.3,"g":29.4,"h":28.9,"i":29.9,"j":30.0,"k":29.5,"l":34.3},
      {"t":3.21875,"a":25.8,"b":28.8,"c":30.0,"d":34.6,"e":36.2,"f":44.3,"g":30.3,"h":30.0,"i":28.7,"j":29.2,"k":29.8,"l":35.5},
      {"t":3.28125,"a":25.98,"b":28.4,"c":29.8,"d":34.3,"e":35.7,"f":45.5,"g":29.2,"h":29.4,"i":29.8,"j":29.6,"k":29.0,"l":34.7},
      {"t":3.34375,"a":25.93,"b":27.9,"c":30.5,"d":33.4,"e":36.5,"f":44.9,"g":29.8,"h":29.7,"i":29.2,"j":29.8,"k":29.7,"l":35.0},
      {"t":3.40625,"a":25.7,"b":28.5,"c":29.9,"d":34.5,"e":36.0,"f":43.5,"g":29.5,"h":29.3,"i":30.0,"j":29.0,"k":30.2,"l":33.9},
      {"t":3.46875,"a":25.9,"b":28.2,"c":30.3,"d":34.1,"e":36.6,"f":45.3,"g":30.0,"h":30.4,"i":29.4,"j":29.5,"k":29.3,"l":36.6},
      {"t":3.53125,"a":25.78,"b":28.7,"c":29.6,"d":34.0,"e":36.4,"f":44.5,"g":28.8,"h":29.2,"i":29.6,"j":30.1,"k":29.6,"l":33.0},
      {"t":3.59375,"a":25.96,"b":28.0,"c":30.1,"d":34.9,"e":35.5,"f":45.7,"g":29.7,"h":29.5,"i":30.2,"j":29.2,"k":29.1,"l":36.8},
      {"t":3.65625,"a":25.73,"b":28.3,"c":29.8,"d":34.4,"e":35.8,"f":44.0,"g":29.9,"h":30.0,"i":29.1,"j":29.7,"k":30.1,"l":33.4},
      {"t":3.71875,"a":25.86,"b":28.5,"c":30.4,"d":33.6,"e":36.6,"f":45.1,"g":29.1,"h":29.8,"i":29.7,"j":29.3,"k":29.4,"l":34.0},
      {"t":3.78125,"a":25.82,"b":27.8,"c":30.2,"d":34.6,"e":36.1,"f":44.1,"g":29.3,"h":29.0,"i":29.3,"j":30.4,"k":29.9,"l":35.2},
      {"t":3.84375,"a":26.04,"b":28.6,"c":29.4,"d":33.8,"e":36.4,"f":45.6,"g":30.2,"h":29.6,"i":30.0,"j":29.6,"k":29.3,"l":34.6},
      {"t":3.90625,"a":25.76,"b":28.1,"c":30.2,"d":34.2,"e":35.6,"f":44.7,"g":29.6,"h":29.2,"i":29.7,"j":29.1,"k":30.0,"l":36.1},
      {"t":3.96875,"a":25.91,"b":28.4,"c":29.7,"d":34.4,"e":36.3,"f":45.0,"g":29.0,"h":30.2,"i":28.8,"j":29.9,"k":28.1,"l":34.2},
      {"t":4.03125,"a":25.83,"b":28.1,"c":30.4,"d":33.6,"e":36.8,"f":43.7,"g":29.9,"h":29.4,"i":29.9,"j":29.4,"k":28.8,"l":35.0},
      {"t":4.09375,"a":25.85,"b":29.0,"c":29.9,"d":34.1,"e":35.9,"f":45.9,"g":29.4,"h":29.9,"i":29.5,"j":30.0,"k":29.9,"l":34.3},
      {"t":4.15625,"a":25.55,"b":28.0,"c":30.0,"d":34.7,"e":36.2,"f":44.3,"g":30.1,"h":29.1,"i":29.4,"j":29.8,"k":29.4,"l":35.4},
      {"t":4.21875,"a":25.77,"b":28.2,"c":30.5,"d":33.8,"e":35.7,"f":45.4,"g":29.2,"h":29.6,"i":30.3,"j":28.9,"k":30.1,"l":35.2},
      {"t":4.28125,"a":25.82,"b":28.6,"c":29.7,"d":34.3,"e":36.7,"f":44.8,"g":29.6,"h":29.3,"i":29.8,"j":29.2,"k":29.1,"l":33.8},
      {"t":4.34375,"a":25.62,"b":28.5,"c":30.1,"d":33.9,"e":36.0,"f":43.8,"g":29.8,"h":30.1,"i":29.0,"j":30.0,"k":29.8,"l":34.7},
      {"t":4.40625,"a":25.67,"b":27.9,"c":29.8,"d":35.0,"e":36.5,"f":45.2,"g":28.9,"h":29.9,"i":30.0,"j":29.5,"k":29.2,"l":35.6},
      {"t":4.46875,"a":25.89,"b":28.3,"c":30.3,"d":34.2,"e":35.9,"f":44.5,"g":30.0,"h":28.7,"i":29.2,"j":29.8,"k":30.0,"l":34.5},
      {"t":4.53125,"a":25.75,"b":28.1,"c":30.1,"d":33.7,"e":36.6,"f":46.2,"g":29.4,"h":29.8,"i":29.6,"j":29.0,"k":29.5,"l":35.3},
      {"t":4.59375,"a":25.6,"b":28.8,"c":29.4,"d":34.5,"e":36.2,"f":44.1,"g":29.7,"h":29.2,"i":29.8,"j":29.7,"k":29.7,"l":34.1},
      {"t":4.65625,"a":25.81,"b":28.2,"c":30.3,"d":34.0,"e":35.4,"f":45.0,"g":29.3,"h":30.0,"i":29.0,"j":30.2,"k":29.0,"l":35.5},
      {"t":4.71875,"a":25.69,"b":28.6,"c":29.9,"d":34.6,"e":36.5,"f":44.2,"g":30.4,"h":29.4,"i":29.5,"j":29.3,"k":30.2,"l":34.4},
      {"t":4.78125,"a":25.87,"b":27.9,"c":29.8,"d":34.4,"e":36.0,"f":45.5,"g":29.2,"h":29.6,"i":30.1,"j":29.6,"k":29.3,"l":34.9},
      {"t":4.84375,"a":25.64,"b":28.4,"c":30.5,"d":33.5,"e":36.7,"f":45.2,"g":29.5,"h":30.2,"i":29.2,"j":29.1,"k":29.9,"l":35.1},
      {"t":4.90625,"a":25.73,"b":28.1,"c":30.2,"d":33.8,"e":35.7,"f":43.6,"g":30.0,"h":29.1,"i":29.7,"j":30.1,"k":29.6,"l":34.0},
      {"t":4.96875,"a":25.8,"b":28.7,"c":29.6,"d":34.6,"e":36.4,"f":44.6,"g":29.8,"h":29.7,"i":29.3,"j":29.4,"k":29.0,"l":35.9},
      {"t":5.03125,"a":25.57,"b":28.5,"c":30.3,"d":34.1,"e":35.8,"f":45.7,"g":29.0,"h":29.3,"i":30.4,"j":29.9,"k":29.8,"l":34.6},
      {"t":5.09375,"a":25.83,"b":27.7,"c":29.8,"d":34.4,"e":36.6,"f":44.4,"g":29.6,"h":30.0,"i":29.6,"j":29.3,"k":29.4,"l":34.8},
      {"t":5.15625,"a":25.68,"b":28.5,"c":30.1,"d":33.6,"e":36.1,"f":45.3,"g":29.2,"h":29.7,"i":29.1,"j":30.0,"k":30.4,"l":34.1},
      {"t":5.21875,"a":25.76,"b":28.0,"c":30.2,"d":34.3,"e":36.3,"f":43.9,"g":30.2,"h":28.8,"i":29.9,"j":29.6,"k":29.2,"l":35.5},
      {"t":5.28125,"a":25.66,"b":28.7,"c":29.5,"d":34.8,"e":35.6,"f":45.5,"g":29.4,"h":29.9,"i":29.4,"j":28.8,"k":29.7,"l":34.4},
      {"t":5.34375,"a":25.95,"b":28.2,"c":30.0,"d":33.9,"e":36.8,"f":44.3,"g":29.9,"h":29.5,"i":30.0,"j":29.9,"k":30.6,"l":35.2},
      {"t":5.40625,"a":25.63,"b":28.3,"c":30.4,"d":34.2,"e":35.9,"f":44.9,"g":29.1,"h":29.4,"i":29.8,"j":29.4,"k":30.0,"l":35.3},
      {"t":5.46875,"a":25.71,"b":28.8,"c":29.7,"d":33.7,"e":36.5,"f":45.1,"g":29.6,"h":30.3,"i":28.9,"j":30.1,"k":29.8,"l":33.6},
      {"t":5.53125,"a":25.84,"b":28.0,"c":30.1,"d":34.7,"e":36.2,"f":43.8,"g":29.3,"h":29.8,"i":29.2,"j":29.1,"k":28.9,"l":35.0},
      {"t":5.59375,"a":25.78,"b":28.4,"c":29.8,"d":34.0,"e":35.6,"f":46.0,"g":30.1,"h":29.0,"i":30.0,"j":29.8,"k":29.5,"l":34.3},
      {"t":5.65625,"a":25.59,"b":28.1,"c":30.6,"d":34.5,"e":36.4,"f":44.5,"g":29.9,"h":30.0,"i":29.5,"j":29.2,"k":30.1,"l":35.7},
      {"t":5.71875,"a":25.74,"b":28.6,"c":30.0,"d":33.9,"e":36.0,"f":44.8,"g":28.7,"h":29.2,"i":29.8,"j":30.0,"k":29.4,"l":34.7},
      {"t":5.78125,"a":25.65,"b":28.4,"c":29.6,"d":34.6,"e":37.0,"f":44.0,"g":29.8,"h":29.6,"i":29.0,"j":29.5,"k":29.9,"l":35.0},
      {"t":5.84375,"a":25.9,"b":27.7,"c":30.3,"d":34.2,"e":35.8,"f":45.6,"g":29.2,"h":29.8,"i":29.7,"j":29.7,"k":29.1,"l":33.8},
      {"t":5.90625,"a":25.7,"b":28.6,"c":29.9,"d":33.4,"e":36.3,"f":44.3,"g":30.0,"h":29.0,"i":30.2,"j":29.0,"k":30.0,"l":35.4},
      {"t":5.96875,"a":25.82,"b":28.2,"c":30.4,"d":34.5,"e":35.8,"f":45.2,"g":29.4,"h":29.5,"i":29.3,"j":30.2,"k":29.3,"l":35.2},
      {"t":6.03125,"a":25.61,"b":28.1,"c":30.2,"d":34.0,"e":36.6,"f":45.4,"g":29.6,"h":30.1,"i":29.6,"j":29.3,"k":29.6,"l":34.3},
      {"t":6.09375,"a":25.75,"b":28.8,"c":29.5,"d":34.7,"e":36.4,"f":43.4,"g":30.2,"h":29.2,"i":29.1,"j":29.9,"k":29.8,"l":34.6},
      {"t":6.15625,"a":25.67,"b":28.5,"c":29.7,"d":33.7,"e":35.5,"f":45.0,"g":29.1,"h":29.7,"i":30.1,"j":29.6,"k":29.0,"l":35.8},
      {"t":6.21875,"a":25.86,"b":27.9,"c":30.3,"d":34.4,"e":36.1,"f":44.1,"g":29.7,"h":29.3,"i":29.4,"j":29.0,"k":30.3,"l":34.2},
      {"t":6.28125,"a":25.81,"b":28.6,"c":29.9,"d":33.8,"e":36.7,"f":45.8,"g":29.3,"h":30.4,"i":29.9,"j":29.8,"k":28.3,"l":34.9},
      {"t":6.34375,"a":25.52,"b":28.1,"c":30.2,"d":34.6,"e":36.0,"f":44.7,"g":30.0,"h":29.6,"i":29.3,"j":29.4,"k":29.6,"l":34.5},
      {"t":6.40625,"a":25.79,"b":28.4,"c":29.6,"d":34.1,"e":36.5,"f":45.0,"g":29.7,"h":29.1,"i":30.0,"j":30.4,"k":29.1,"l":35.6},
      {"t":6.46875,"a":25.64,"b":28.5,"c":30.1,"d":34.3,"e":35.7,"f":43.6,"g":28.8,"h":29.9,"i":29.6,"j":28.2,"k":30.0,"l":35.3},
      {"t":6.53125,"a":25.85,"b":27.8,"c":30.5,"d":33.6,"e":36.6,"f":45.5,"g":29.9,"h":29.4,"i":28.8,"j":29.7,"k":29.3,"l":33.9},
      {"t":6.59375,"a":25.74,"b":28.3,"c":29.8,"d":34.8,"e":35.9,"f":45.2,"g":29.5,"h":30.0,"i":29.9,"j":29.2,"k":29.8,"l":35.1},
      {"t":6.65625,"a":25.78,"b":28.7,"c":30.1,"d":33.9,"e":36.2,"f":44.2,"g":29.4,"h":29.8,"i":29.4,"j":30.0,"k":29.9,"l":34.4},
      {"t":6.71875,"a":25.93,"b":28.0,"c":29.7,"d":34.5,"e":36.4,"f":44.5,"g":30.3,"h":28.9,"i":30.1,"j":29.8,"k":28.8,"l":35.5},
      {"t":6.78125,"a":25.67,"b":28.4,"c":30.4,"d":34.2,"e":35.6,"f":45.9,"g":29.8,"h":29.2,"i":29.1,"j":28.9,"k":29.7,"l":34.1},
      {"t":6.84375,"a":25.82,"b":28.1,"c":29.9,"d":33.6,"e":36.9,"f":44.1,"g":29.0,"h":30.0,"i":29.8,"j":29.5,"k":29.2,"l":34.9},
      {"t":6.90625,"a":25.71,"b":28.9,"c":30.2,"d":34.4,"e":36.0,"f":44.9,"g":30.0,"h":29.5,"i":29.2,"j":30.1,"k":30.2,"l":34.6},
      {"t":6.96875,"a":25.88,"b":28.3,"c":29.8,"d":34.0,"e":36.2,"f":44.4,"g":29.2,"h":29.8,"i":30.0,"j":29.4,"k":29.5,"l":35.9},
      {"t":7.03125,"a":25.81,"b":27.9,"c":30.3,"d":35.0,"e":35.7,"f":45.7,"g":29.6,"h":29.0,"i":29.5,"j":29.9,"k":29.7,"l":34.3},
      {"t":7.09375,"a":25.67,"b":28.6,"c":30.1,"d":33.8,"e":36.6,"f":45.3,"g":29.8,"h":29.7,"i":29.7,"j":28.2,"k":28.9,"l":35.2},
      {"t":7.15625,"a":25.95,"b":28.2,"c":29.5,"d":34.3,"e":35.9,"f":43.0,"g":29.0,"h":30.2,"i":29.0,"j":30.0,"k":30.0,"l":34.7},
      {"t":7.21875,"a":25.84,"b":28.7,"c":30.2,"d":33.8,"e":36.4,"f":45.1,"g":29.5,"h":29.3,"i":30.2,"j":29.3,"k":29.8,"l":35.5},
      {"t":7.28125,"a":25.81,"b":28.5,"c":29.9,"d":34.6,"e":36.5,"f":44.3,"g":30.1,"h":29.6,"i":29.3,"j":29.6,"k":29.2,"l":36.8},
      {"t":7.34375,"a":26.04,"b":27.8,"c":30.4,"d":34.4,"e":35.4,"f":45.5,"g":29.2,"h":29.1,"i":29.9,"j":29.8,"k":29.4,"l":33.0},
      {"t":7.40625,"a":25.92,"b":28.0,"c":29.7,"d":33.5,"e":36.3,"f":43.9,"g":29.7,"h":30.1,"i":29.6,"j":29.0,"k":30.2,"l":35.3},
      {"t":7.46875,"a":25.73,"b":28.6,"c":30.2,"d":34.1,"e":35.8,"f":44.8,"g":29.3,"h":29.4,"i":29.0,"j":30.3,"k":29.2,"l":34.1},
      {"t":7.53125,"a":25.97,"b":28.2,"c":29.7,"d":34.7,"e":36.8,"f":44.5,"g":30.4,"h":29.9,"i":29.8,"j":29.4,"k":29.6,"l":34.4},
      {"t":7.59375,"a":25.78,"b":28.5,"c":30.4,"d":34.0,"e":36.1,"f":46.1,"g":29.6,"h":29.3,"i":29.4,"j":29.6,"k":30.7,"l":35.8},
      {"t":7.65625,"a":25.88,"b":27.9,"c":30.0,"d":34.5,"e":36.3,"f":44.1,"g":29.1,"h":30.0,"i":30.4,"j":29.1,"k":30.1,"l":34.9},
      {"t":7.71875,"a":25.93,"b":28.4,"c":30.1,"d":33.7,"e":35.5,"f":45.2,"g":29.9,"h":29.6,"i":29.2,"j":30.0,"k":29.9,"l":34.0},
      {"t":7.78125,"a":25.71,"b":28.8,"c":29.5,"d":34.6,"e":36.6,"f":44.6,"g":29.4,"h":28.8,"i":29.7,"j":29.3,"k":29.0,"l":35.3},
      {"t":7.84375,"a":25.85,"b":28.1,"c":30.5,"d":33.9,"e":36.4,"f":45.6,"g":30.0,"h":29.9,"i":29.2,"j":29.8,"k":29.8,"l":34.6},
      {"t":7.90625,"a":26.0,"b":28.4,"c":29.8,"d":34.2,"e":35.8,"f":43.5,"g":29.8,"h":29.4,"i":30.0,"j":29.9,"k":29.3,"l":35.6},
      {"t":7.96875,"a":25.76,"b":28.0,"c":30.3,"d":34.4,"e":36.0,"f":45.0,"g":28.9,"h":30.1,"i":29.8,"j":28.8,"k":30.0,"l":34.3},
      {"t":8.03125,"a":25.9,"b":28.7,"c":30.0,"d":33.6,"e":36.8,"f":45.4,"g":29.2,"h":29.1,"i":28.9,"j":29.7,"k":29.1,"l":34.8},
      {"t":8.09375,"a":25.7,"b":28.2,"c":29.6,"d":34.9,"e":35.8,"f":44.0,"g":30.0,"h":29.8,"i":29.5,"j":29.2,"k":29.6,"l":35.2},
      {"t":8.15625,"a":25.96,"b":28.5,"c":30.2,"d":34.0,"e":36.2,"f":44.3,"g":29.5,"h":29.2,"i":30.1,"j":30.2,"k":29.4,"l":33.8},
      {"t":8.21875,"a":25.77,"b":28.1,"c":29.9,"d":34.2,"e":36.0,"f":45.9,"g":29.8,"h":30.0,"i":29.4,"j":29.5,"k":30.3,"l":35.4},
      {"t":8.28125,"a":25.64,"b":28.6,"c":30.6,"d":33.7,"e":36.7,"f":44.9,"g":29.0,"h":29.5,"i":29.9,"j":29.7,"k":29.2,"l":34.5},
      {"t":8.34375,"a":25.85,"b":28.4,"c":29.7,"d":34.6,"e":36.5,"f":43.8,"g":29.7,"h":29.7,"i":29.1,"j":28.9,"k":29.8,"l":35.0},
      {"t":8.40625,"a":25.73,"b":27.8,"c":30.1,"d":33.9,"e":35.6,"f":45.3,"g":30.2,"h":29.0,"i":30.0,"j":30.0,"k":29.5,"l":34.4},
      {"t":8.46875,"a":26.07,"b":28.5,"c":29.8,"d":34.4,"e":36.4,"f":44.5,"g":29.3,"h":30.2,"i":29.3,"j":29.8,"k":30.0,"l":36.1},
      {"t":8.53125,"a":26.0,"b":28.2,"c":30.3,"d":34.5,"e":35.9,"f":45.7,"g":29.6,"h":29.3,"i":29.6,"j":29.2,"k":28.8,"l":34.2},
      {"t":8.59375,"a":25.78,"b":28.7,"c":30.2,"d":33.4,"e":36.6,"f":44.1,"g":29.1,"h":29.9,"i":29.8,"j":29.4,"k":29.7,"l":34.7},
      {"t":8.65625,"a":25.86,"b":28.0,"c":29.5,"d":34.3,"e":35.7,"f":44.8,"g":30.1,"h":29.6,"i":29.0,"j":30.2,"k":29.9,"l":35.5},
      {"t":8.71875,"a":26.05,"b":28.5,"c":29.9,"d":33.8,"e":36.2,"f":45.2,"g":29.4,"h":29.0,"i":30.3,"j":29.2,"k":29.1,"l":35.1},
      {"t":8.78125,"a":25.93,"b":28.0,"c":30.4,"d":34.8,"e":36.0,"f":43.6,"g":29.9,"h":29.8,"i":29.4,"j":29.6,"k":29.3,"l":34.0},
      {"t":8.84375,"a":26.01,"b":28.7,"c":29.8,"d":34.1,"e":36.9,"f":45.5,"g":29.3,"h":29.4,"i":29.6,"j":29.4,"k":30.2,"l":34.9},
      {"t":8.90625,"a":25.81,"b":28.3,"c":30.2,"d":34.3,"e":35.8,"f":44.4,"g":30.0,"h":30.4,"i":29.1,"j":30.1,"k":29.6,"l":34.3},
      {"t":8.96875,"a":25.98,"b":28.4,"c":29.6,"d":33.5,"e":36.4,"f":45.0,"g":29.6,"h":29.2,"i":30.0,"j":29.9,"k":29.0,"l":35.8},
      {"t":9.03125,"a":26.11,"b":27.8,"c":30.3,"d":34.6,"e":36.1,"f":44.3,"g":28.8,"h":29.7,"i":29.3,"j":29.0,"k":29.9,"l":34.6},
      {"t":9.09375,"a":25.88,"b":28.8,"c":29.8,"d":34.4,"e":36.6,"f":46.3,"g":29.9,"h":29.2,"i":29.8,"j":29.8,"k":29.4,"l":35.3},
      {"t":9.15625,"a":25.97,"b":28.1,"c":30.1,"d":33.8,"e":35.4,"f":44.1,"g":29.4,"h":30.0,"i":29.9,"j":29.3,"k":30.1,"l":34.1},
      {"t":9.21875,"a":25.84,"b":28.6,"c":30.2,"d":34.0,"e":36.3,"f":44.6,"g":30.1,"h":29.8,"i":28.8,"j":30.0,"k":29.2,"l":34.9},
      {"t":9.28125,"a":26.08,"b":28.3,"c":29.6,"d":34.8,"e":36.5,"f":45.5,"g":29.1,"h":28.9,"i":29.7,"j":29.1,"k":28.2,"l":34.4},
      {"t":9.34375,"a":25.91,"b":27.9,"c":30.5,"d":33.8,"e":35.7,"f":45.1,"g":29.8,"h":29.5,"i":29.2,"j":29.6,"k":29.8,"l":35.6},
      {"t":9.40625,"a":26.03,"b":28.5,"c":29.9,"d":34.2,"e":35.9,"f":43.8,"g":29.2,"h":30.1,"i":30.2,"j":29.4,"k":28.9,"l":35.3},
      {"t":9.46875,"a":25.88,"b":28.2,"c":30.0,"d":34.0,"e":36.8,"f":44.8,"g":30.0,"h":29.4,"i":29.5,"j":30.3,"k":30.0,"l":33.5},
      {"t":9.53125,"a":26.05,"b":28.9,"c":29.7,"d":34.7,"e":36.2,"f":44.2,"g":29.5,"h":29.9,"i":29.7,"j":29.2,"k":29.4,"l":35.2},
      {"t":9.59375,"a":25.97,"b":28.0,"c":30.4,"d":34.5,"e":35.6,"f":45.9,"g":29.7,"h":29.1,"i":28.9,"j":29.8,"k":29.7,"l":34.3},
      {"t":9.65625,"a":25.77,"b":28.4,"c":29.8,"d":33.6,"e":36.5,"f":44.5,"g":29.0,"h":30.0,"i":30.0,"j":29.5,"k":29.3,"l":35.5},
      {"t":9.71875,"a":26.03,"b":28.1,"c":30.2,"d":34.4,"e":36.0,"f":45.4,"g":30.2,"h":29.3,"i":29.8,"j":30.0,"k":30.4,"l":34.6},
      {"t":9.78125,"a":25.92,"b":28.6,"c":30.3,"d":33.9,"e":36.7,"f":43.9,"g":29.3,"h":29.6,"i":29.2,"j":28.8,"k":29.2,"l":34.8},
      {"t":9.84375,"a":26.08,"b":28.5,"c":29.4,"d":34.6,"e":35.8,"f":44.9,"g":29.9,"h":29.8,"i":29.4,"j":29.7,"k":29.5,"l":35.7},
      {"t":9.90625,"a":25.84,"b":27.8,"c":30.1,"d":33.7,"e":36.2,"f":44.3,"g":29.6,"h":29.0,"i":30.2,"j":29.9,"k":30.0,"l":34.1},
      {"t":9.96875,"a":26.0,"b":28.2,"c":29.7,"d":34.2,"e":36.4,"f":45.7,"g":29.0,"h":30.3,"i":29.2,"j":29.1,"k":29.8,"l":35.0}
    ]
  },
  "spacing": 24,
  "resolve": {
    "scale": {"color": "independent"},
    "legend": {"color": "independent"}
  },
  "hconcat": [
    {
      "title": {"text": "Socket 0 Power Consumption"},
      "width": 1741,
      "height": 835,
      "transform": [{"fold": ["a", "b", "c", "d", "e", "f"], "as": ["s", "p"]}],
      "encoding": {
        "x": {
          "field": "t",
          "type": "quantitative",
          "title": "Time (s)",
          "scale": {"domain": [-0.5, 10.5], "nice": false, "zero": false},
          "axis": {"values": [0, 2, 4, 6, 8, 10]}
        },
        "y": {
          "field": "p",
          "type": "quantitative",
          "title": "Power Consumption (W)",
          "scale": {"domain": [21.95, 48.32], "nice": false, "zero": false},
          "axis": {"values": [25, 30, 35, 40, 45]}
        },
        "color": {
          "field": "s",
          "type": "nominal",
          "scale": {
            "domain": ["a", "b", "c", "d", "e", "f"],
            "range": ["#1f77b4", "#ff7f0e", "#2ca02c", "#d62728", "#9467bd", "#8c564b"]
          },
          "legend": {
            "title": null,
            "orient": "top-right",
            "offset": 13,
            "labelExpr": "'Frequency of socket 0 = ' + ['0.8', '1.2', '1.5', '1.8', '2.0', '2.2'][indexof(['a', 'b', 'c', 'd', 'e', 'f'], datum.label)] + 'GHz'",
            "labelLimit": 0,
            "labelFont": "DejaVu Sans",
            "labelFontSize": 26,
            "labelColor": "#000",
            "symbolType": "M-1.85,0L1.85,0M0,-0.85L0,0.85",
            "symbolSize": 900,
            "symbolStrokeWidth": 4,
            "symbolOffset": 12,
            "labelOffset": 30,
            "rowPadding": -6,
            "padding": 8,
            "fillColor": "rgba(255,255,255,0.8)",
            "strokeColor": "#d5d5d5",
            "cornerRadius": 5
          }
        }
      },
      "layer": [
        {"mark": {"type": "line", "strokeWidth": 3}},
        {"transform": [{"filter": "datum.s == 'a'"}], "mark": {"type": "tick", "orient": "vertical", "thickness": 3, "size": 12}},
        {"transform": [{"filter": "datum.s == 'b'"}], "mark": {"type": "tick", "orient": "vertical", "thickness": 3, "size": 16}},
        {"transform": [{"filter": "datum.s == 'c'"}], "mark": {"type": "tick", "orient": "vertical", "thickness": 3, "size": 20}},
        {"transform": [{"filter": "datum.s == 'd'"}], "mark": {"type": "tick", "orient": "vertical", "thickness": 3, "size": 22}},
        {"transform": [{"filter": "datum.s == 'e'"}], "mark": {"type": "tick", "orient": "vertical", "thickness": 3, "size": 26}},
        {"transform": [{"filter": "datum.s == 'f'"}], "mark": {"type": "tick", "orient": "vertical", "thickness": 3, "size": 36}}
      ]
    },
    {
      "title": {"text": "Socket 1 Power Consumption"},
      "width": 1741,
      "height": 835,
      "transform": [{"fold": ["g", "h", "i", "j", "k", "l"], "as": ["s", "p"]}],
      "encoding": {
        "x": {
          "field": "t",
          "type": "quantitative",
          "title": "Time (s)",
          "scale": {"domain": [-0.5, 10.5], "nice": false, "zero": false},
          "axis": {"values": [0, 2, 4, 6, 8, 10]}
        },
        "y": {
          "field": "p",
          "type": "quantitative",
          "title": "Power Consumption (W)",
          "scale": {"domain": [21.95, 48.32], "nice": false, "zero": false},
          "axis": {"values": [25, 30, 35, 40, 45]}
        },
        "color": {
          "field": "s",
          "type": "nominal",
          "scale": {
            "domain": ["g", "h", "i", "j", "k", "l"],
            "range": ["#1f77b4", "#ff7f0e", "#2ca02c", "#d62728", "#9467bd", "#8c564b"]
          },
          "legend": {
            "title": null,
            "orient": "top-right",
            "offset": 13,
            "labelExpr": "'Frequency of socket 0 = ' + ['0.8', '1.2', '1.5', '1.8', '2.0', '2.2'][indexof(['g', 'h', 'i', 'j', 'k', 'l'], datum.label)] + 'GHz'",
            "labelLimit": 0,
            "labelFont": "DejaVu Sans",
            "labelFontSize": 26,
            "labelColor": "#000",
            "symbolType": "M-1.85,0L1.85,0M0,-0.85L0,0.85",
            "symbolSize": 900,
            "symbolStrokeWidth": 4,
            "symbolOffset": 12,
            "labelOffset": 30,
            "rowPadding": -6,
            "padding": 8,
            "fillColor": "rgba(255,255,255,0.8)",
            "strokeColor": "#d5d5d5",
            "cornerRadius": 5
          }
        }
      },
      "layer": [
        {"mark": {"type": "line", "strokeWidth": 3}},
        {"transform": [{"filter": "datum.s != 'l'"}], "mark": {"type": "tick", "orient": "vertical", "thickness": 3, "size": 24}},
        {"transform": [{"filter": "datum.s == 'l'"}], "mark": {"type": "tick", "orient": "vertical", "thickness": 3, "size": 34}}
      ]
    }
  ],
  "config": {
    "font": "DejaVu Sans",
    "view": {"stroke": null},
    "title": {"font": "DejaVu Sans", "fontSize": 31, "fontWeight": "normal", "color": "#000", "offset": 48},
    "axis": {
      "labelFont": "DejaVu Sans",
      "titleFont": "DejaVu Sans",
      "labelFontSize": 26,
      "titleFontSize": 26,
      "titleFontWeight": "normal",
      "labelColor": "#000",
      "titleColor": "#000",
      "domainColor": "#000",
      "domainWidth": 2,
      "tickColor": "#000",
      "tickWidth": 2,
      "tickSize": 9,
      "gridColor": "#b0b0b0",
      "gridWidth": 2,
      "labelPadding": 7,
      "titlePadding": 10,
      "labelFlush": false
    }
  }
}
